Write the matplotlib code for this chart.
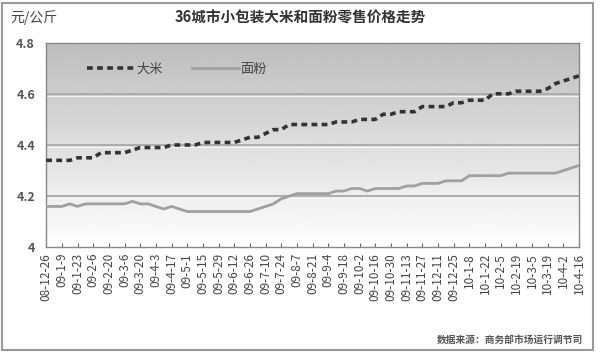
import numpy as np
import matplotlib
matplotlib.use('Agg')
import matplotlib.pyplot as plt
from matplotlib.patches import Rectangle

plt.rcParams['font.family'] = ['Noto Sans CJK SC', 'DejaVu Sans']

# weekly dates, labelled every other week
labels = ['08-12-26', '09-1-9', '09-1-23', '09-2-6', '09-2-20', '09-3-6', '09-3-20',
          '09-4-3', '09-4-17', '09-5-1', '09-5-15', '09-5-29', '09-6-12', '09-6-26',
          '09-7-10', '09-7-24', '09-8-7', '09-8-21', '09-9-4', '09-9-18', '09-10-2',
          '09-10-16', '09-10-30', '09-11-13', '09-11-27', '09-12-11', '09-12-25',
          '10-1-8', '10-1-22', '10-2-5', '10-2-19', '10-3-5', '10-3-19', '10-4-2', '10-4-16']

rice = [4.34, 4.34, 4.34, 4.34, 4.35, 4.35, 4.35, 4.37, 4.37, 4.37,
        4.37, 4.38, 4.39, 4.39, 4.39, 4.39, 4.40, 4.40, 4.40, 4.40,
        4.41, 4.41, 4.41, 4.41, 4.41, 4.42, 4.43, 4.43, 4.445, 4.46,
        4.46, 4.48, 4.48, 4.48, 4.48, 4.48, 4.48, 4.49, 4.49, 4.49,
        4.50, 4.50, 4.50, 4.52, 4.52, 4.53, 4.53, 4.53, 4.55, 4.55,
        4.55, 4.55, 4.565, 4.565, 4.575, 4.575, 4.575, 4.60, 4.60, 4.60,
        4.61, 4.61, 4.61, 4.61, 4.62, 4.64, 4.65, 4.66, 4.67]

flour = [4.16, 4.16, 4.16, 4.17, 4.16, 4.17, 4.17, 4.17, 4.17, 4.17,
         4.17, 4.18, 4.17, 4.17, 4.16, 4.15, 4.16, 4.15, 4.14, 4.14,
         4.14, 4.14, 4.14, 4.14, 4.14, 4.14, 4.14, 4.15, 4.16, 4.17,
         4.19, 4.20, 4.21, 4.21, 4.21, 4.21, 4.21, 4.22, 4.22, 4.23,
         4.23, 4.22, 4.23, 4.23, 4.23, 4.23, 4.24, 4.24, 4.25, 4.25,
         4.25, 4.26, 4.26, 4.26, 4.28, 4.28, 4.28, 4.28, 4.28, 4.29,
         4.29, 4.29, 4.29, 4.29, 4.29, 4.29, 4.30, 4.31, 4.32]

yticks = [4.0, 4.2, 4.4, 4.6, 4.8]
yticklabels = ['4', '4.2', '4.4', '4.6', '4.8']

x = np.arange(len(rice))

fig = plt.figure(figsize=(6, 3.58), dpi=100)
fig.patch.set_facecolor('white')
fig.patches.append(Rectangle((0.004, 0.022), 0.985, 0.97, transform=fig.transFigure,
                             fill=False, edgecolor='#9a9a9a', lw=1.5))

ax = fig.add_axes([0.077, 0.309, 0.888, 0.572])

# gray (top) to white (bottom) background
grad = 1 - 0.26 * np.linspace(0, 1, 256).reshape(-1, 1)
ax.imshow(grad, extent=[0, len(rice) - 1, 4.0, 4.8], aspect='auto', origin='lower',
          cmap=plt.cm.gray, vmin=0, vmax=1, zorder=0)

for yv in yticks[1:-1]:
    ax.axhline(yv, color='#a8a8a8', lw=1.3, zorder=1)
    ax.axhline(yv - 0.007, color='#f6f6f6', lw=0.8, zorder=1)

ax.plot(x, rice, color='#333333', lw=2.6, linestyle=(0, (1.6, 1.2)), label='大米', zorder=3)
ax.plot(x, flour, color='#a0a0a0', lw=2.0, label='面粉', zorder=3)

ax.set_xlim(0, len(rice) - 1)
ax.set_ylim(4.0, 4.8)
ax.set_xticks(x[::2])
ax.set_xticklabels(labels, rotation=90, fontsize=8.5, color='#444444')
ax.set_yticks(yticks)
ax.set_yticklabels(yticklabels, fontsize=9, color='#555555', fontweight='bold')
ax.tick_params(axis='x', length=3, direction='in', color='#666666', pad=4)
ax.tick_params(axis='y', length=0, pad=8)
for s in ax.spines.values():
    s.set_color('#888888')
    s.set_linewidth(1.0)

ax.legend(loc='upper left', bbox_to_anchor=(0.055, 0.96), ncol=2, frameon=False,
          fontsize=9.5, handlelength=3.6, columnspacing=2.2, handletextpad=0.1,
          labelcolor='#444444')

fig.text(0.5, 0.952, '36城市小包装大米和面粉零售价格走势', ha='center', va='center',
         fontsize=10.5, fontweight='bold', color='#333333')
fig.text(0.017, 0.952, '元/公斤', ha='left', va='center', fontsize=10, color='#444444')
fig.text(0.972, 0.05, '数据来源：商务部市场运行调节司', ha='right', va='center',
         fontsize=7, fontweight='bold', color='#555555')

fig.savefig('out.png', dpi=100)
